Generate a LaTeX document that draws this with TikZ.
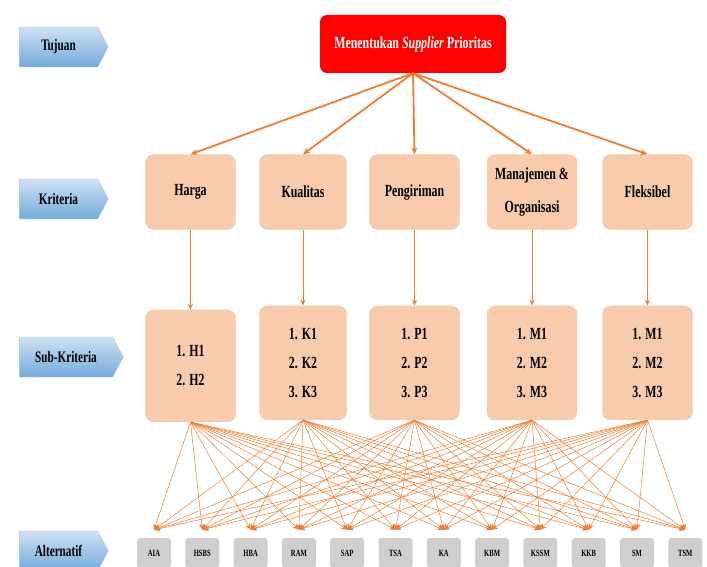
\documentclass[tikz,border=0pt]{standalone}
\usepackage{fontspec}
\setmainfont{Liberation Serif}[FakeStretch=0.7]
\usetikzlibrary{arrows.meta,positioning,shapes.symbols}
\definecolor{peach}{HTML}{F8CBAD}
\definecolor{linkorange}{HTML}{ED7D31}
\definecolor{altgray}{HTML}{D0CECE}
\definecolor{tagblue}{HTML}{5B9BD5}
\tikzset{
  tag/.style={signal, signal to=east, signal pointer angle=124, top color=tagblue!30, bottom color=tagblue!85, draw=tagblue!50, minimum height=40pt, minimum width=89pt, inner sep=0pt, font=\fontsize{16}{18}\selectfont\bfseries},
  goal/.style={fill=red, rounded corners=7pt, minimum width=186pt, minimum height=58pt, text=white, font=\fontsize{17}{19}\selectfont\bfseries},
  crit/.style={fill=peach, draw=peach!90!black!70, rounded corners=8pt, minimum width=90pt, minimum height=75pt, align=center, inner sep=1pt, font=\fontsize{17}{33}\selectfont\bfseries},
  sub/.style={crit, minimum height=114pt, font=\fontsize{17}{29}\selectfont\bfseries},
  alt/.style={fill=altgray, rounded corners=3pt, minimum width=34pt, minimum height=30pt, inner sep=1pt, font=\fontsize{9.5}{10}\selectfont\bfseries},
  arr/.style={-{Stealth[length=7pt, width=6pt]}, linkorange, line width=1.8pt},
  marr/.style={-{Stealth[length=6pt, width=5pt]}, linkorange, line width=1pt},
  harr/.style={-{Stealth[length=6pt, width=5pt]}, linkorange, line width=0.5pt},
}
\begin{document}
\begin{tikzpicture}[x=1pt, y=-1pt]
\useasboundingbox (0,0) rectangle (707,567);

% level labels
\node[tag] (tujuan) at (58.5,47) {Tujuan};
\node[tag] (kriteria) at (58.5,199) {Kriteria};
\node[tag, minimum width=104pt] (subkriteria) at (66,357) {Sub-Kriteria};
\node[tag] (alternatif) at (58.5,551) {Alternatif};

% goal
\node[goal] (goal) at (413,44) {Menentukan \textit{Supplier} Prioritas};

% criteria
\node[crit] (harga) at (190.5,192) {Harga};
\node[crit, minimum width=87pt] (kualitas) at (303,192) {Kualitas};
\node[crit] (kirim) at (414.5,192) {Pengiriman};
\node[crit] (manaj) at (532,192) {Manajemen \&\\Organisasi};
\node[crit] (fleks) at (647.5,192) {Fleksibel};

% sub-criteria
\node[sub, below=80pt of harga, minimum height=112pt] (sh) {1. H1\\2. H2};
\node[sub, below=76pt of kualitas, minimum width=87pt] (sk) {1. K1\\2. K2\\3. K3};
\node[sub, below=76pt of kirim] (sp) {1. P1\\2. P2\\3. P3};
\node[sub, below=76pt of manaj] (sm) {1. M1\\2. M2\\3. M3};
\node[sub, below=76pt of fleks] (sf) {1. M1\\2. M2\\3. M3};

% alternatives
\foreach \name [count=\i] in {AIA,HSBS,HBA,RAM,SAP,TSA,KA,KBM,KSSM,KKB,SM,TSM} {
  \node[alt] (a\i) at ({154+(\i-1)*48.3},553) {\name};
  \coordinate (t\i) at ([yshift=8pt]a\i.north);
}

% links
\foreach \c in {harga,kualitas,kirim,manaj,fleks}
  \draw[arr] (goal.south) -- (\c.north);
\draw[marr] (harga) -- (sh);
\draw[marr] (kualitas) -- (sk);
\draw[marr] (kirim) -- (sp);
\draw[marr] (manaj) -- (sm);
\draw[marr] (fleks) -- (sf);
\foreach \s in {sh,sk,sp,sm,sf}
  \foreach \i in {1,...,12}
    \draw[harr] (\s.south) -- (t\i);

\end{tikzpicture}
\end{document}
